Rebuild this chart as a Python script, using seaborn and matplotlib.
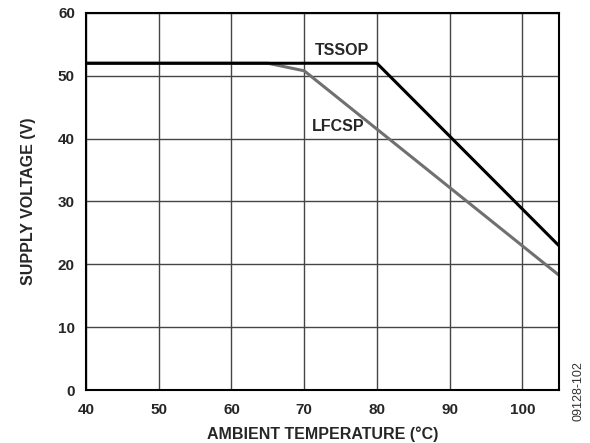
import matplotlib
matplotlib.use("Agg")
import matplotlib.pyplot as plt
import seaborn as sns
import pandas as pd

tssop_temp = [40, 80, 105]
tssop_volt = [52, 52, 23]
lfcsp_temp = [40, 65, 70, 105]
lfcsp_volt = [52, 52, 50.8, 18.3]
x_ticks = [40, 50, 60, 70, 80, 90, 100]
y_ticks = [0, 10, 20, 30, 40, 50, 60]

sns.set_theme(style="white")
plt.rcParams['font.family'] = ['Liberation Sans', 'DejaVu Sans']

df = pd.concat([
    pd.DataFrame({"temp": tssop_temp, "volt": tssop_volt, "pkg": "TSSOP"}),
    pd.DataFrame({"temp": lfcsp_temp, "volt": lfcsp_volt, "pkg": "LFCSP"}),
])

fig = plt.figure(figsize=(5.9, 4.43), dpi=100)
ax = fig.add_axes([0.1458, 0.1196, 0.8012, 0.8511])

sns.lineplot(data=df, x="temp", y="volt", hue="pkg",
             palette={"TSSOP": "#000000", "LFCSP": "#707070"},
             hue_order=["LFCSP", "TSSOP"], linewidth=2.2,
             legend=False, ax=ax, sort=False, estimator=None)

ax.set_xlim(40, 105)
ax.set_ylim(0, 60)
ax.set_xticks(x_ticks)
ax.set_yticks(y_ticks)
ax.grid(True, color="#454545", linewidth=1.0)
ax.set_axisbelow(True)
for s in ax.spines.values():
    s.set_color("black")
    s.set_linewidth(1.5)
ax.tick_params(axis="x", length=0, pad=9, labelsize=11)
ax.tick_params(axis="y", length=0, pad=8, labelsize=11)
for lab in ax.get_xticklabels() + ax.get_yticklabels():
    lab.set_fontweight("bold")
ax.set_xlabel("AMBIENT TEMPERATURE (°C)", fontsize=11.5, fontweight="bold", labelpad=7)
ax.set_ylabel("SUPPLY VOLTAGE (V)", fontsize=11.5, fontweight="bold", labelpad=16)

ax.text(71.5, 54.1, "TSSOP", fontsize=11.5, fontweight="bold", ha="left", va="center")
ax.text(71.0, 42.0, "LFCSP", fontsize=11.5, fontweight="bold", ha="left", va="center")

fig.text(0.98, 0.117, "09128-102", rotation=90, fontsize=9, ha="center", va="center",
         color="#333333")

fig.savefig("out.png", dpi=100)
